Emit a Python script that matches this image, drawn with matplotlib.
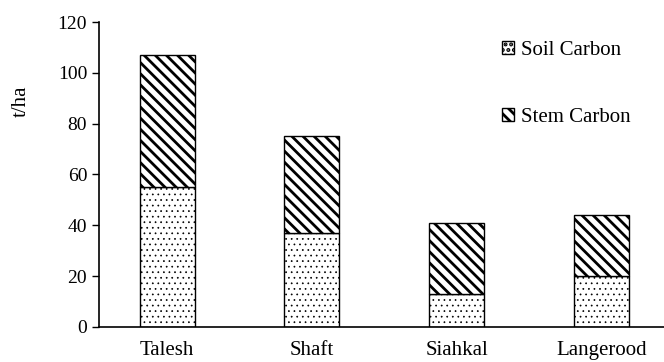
import matplotlib.pyplot as plt
import numpy as np

sites = ['Talesh', 'Shaft', 'Siahkal', 'Langerood']
soil_carbon = [55, 37, 13, 20]
stem_carbon = [52, 38, 28, 24]

plt.rcParams['font.family'] = ['Liberation Serif', 'DejaVu Serif']

fig = plt.figure(figsize=(6.64, 3.62), dpi=100)
ax = fig.add_axes([0.149, 0.097, 0.851, 0.842])

x = np.arange(len(sites))
w = 0.38

# fine dots for soil, thick diagonals for stem
plt.rcParams['hatch.linewidth'] = 0.5
soil = ax.bar(x, soil_carbon, w, color='white', edgecolor='black', hatch='...',
              linewidth=1, label='Soil Carbon')
plt.rcParams['hatch.linewidth'] = 2.0
stem = ax.bar(x, stem_carbon, w, bottom=soil_carbon, color='white', edgecolor='black',
              hatch='\\\\\\', linewidth=1, label='Stem Carbon')
for p in soil:
    if hasattr(p, 'set_hatch_linewidth'):
        p.set_hatch_linewidth(0.5)
for p in stem:
    if hasattr(p, 'set_hatch_linewidth'):
        p.set_hatch_linewidth(2.0)

ax.set_xlim(-0.47, 3.43)
ax.set_ylim(0, 120)
ax.set_yticks(range(0, 121, 20))
ax.set_xticks(x)
ax.set_xticklabels(sites, fontsize=15)
ax.tick_params(axis='x', length=0, pad=10)
ax.tick_params(axis='y', labelsize=14, direction='out', length=5, width=1)

for side in ['top', 'right']:
    ax.spines[side].set_visible(False)
for side in ['left', 'bottom']:
    ax.spines[side].set_linewidth(1.2)

ax.set_ylabel('t/ha', fontsize=15)
ax.yaxis.set_label_coords(-0.12, 0.74)

ax.legend(loc='upper left', bbox_to_anchor=(0.68, 1.0), frameon=False,
          fontsize=15, handlelength=0.6, handleheight=0.6, handletextpad=0.3,
          labelspacing=2.3)

fig.savefig('out.png', dpi=100)
